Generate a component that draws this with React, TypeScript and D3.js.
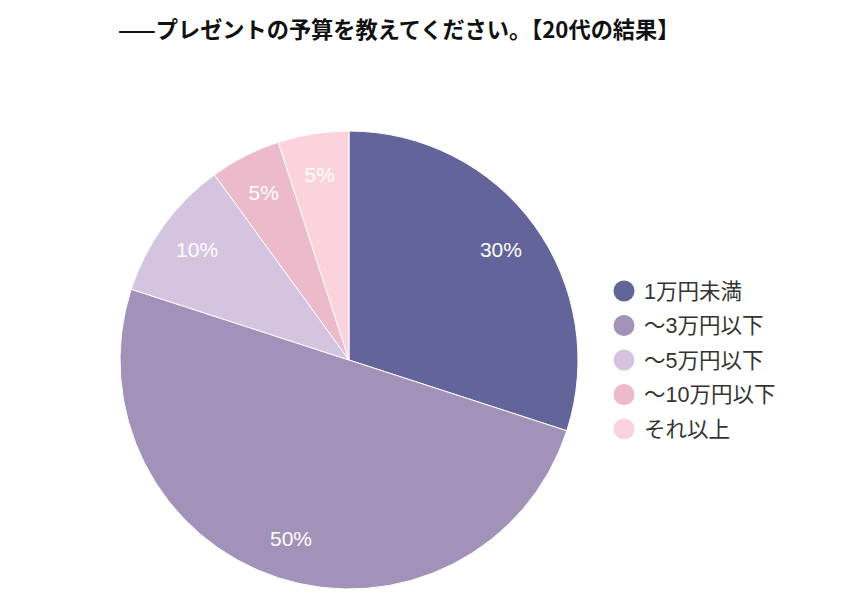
import React from "react";
import * as d3 from "d3";

const categories = ["1万円未満", "～3万円以下", "～5万円以下", "～10万円以下", "それ以上"];
const values = [30, 50, 10, 5, 5];
const colors = ["#62649a", "#a291b8", "#d4c4e0", "#ecbacb", "#fad3dc"];
const title = "——プレゼントの予算を教えてください。【20代の結果】";

export default function App() {
  const W = 850, H = 600;
  const cx = 349, cy = 360, r = 229;
  const pie = d3.pie<number>().sort(null).value((d) => d)(values);
  const arc = d3.arc<d3.PieArcDatum<number>>().innerRadius(0).outerRadius(r);
  const labelArc = d3.arc<d3.PieArcDatum<number>>().innerRadius(r * 0.82).outerRadius(r * 0.82);
  const total = d3.sum(values);
  return (
    <svg width={W} height={H} style={{ position: "absolute", left: 0, top: 0, background: "#fff" }}>
      <text x={118} y={38} fontSize={22.2} fontWeight="bold" fill="#111"
        fontFamily="'Noto Sans CJK JP', 'Noto Sans', sans-serif">{title}</text>
      <g transform={`translate(${cx},${cy})`}>
        {pie.map((p, i) => (
          <path key={i} d={arc(p) || ""} fill={colors[i]} stroke="#fff" strokeWidth={1} />
        ))}
        {pie.map((p, i) => {
          const [x, y] = labelArc.centroid(p);
          return (
            <text key={"l" + i} x={x} y={y} dy="0.35em" textAnchor="middle" fill="#fff"
              fontSize={21} fontFamily="'Liberation Sans', Arial, sans-serif">
              {Math.round((values[i] / total) * 100)}%
            </text>
          );
        })}
      </g>
      <g>
        {categories.map((c, i) => (
          <g key={c} transform={`translate(624,${291 + i * 34.5})`}>
            <circle r={10.5} fill={colors[i]} />
            <text x={20} dy="0.36em" fontSize={21.5} fill="#333"
              fontFamily="'Liberation Sans', 'Noto Sans CJK JP', sans-serif">{c}</text>
          </g>
        ))}
      </g>
    </svg>
  );
}
